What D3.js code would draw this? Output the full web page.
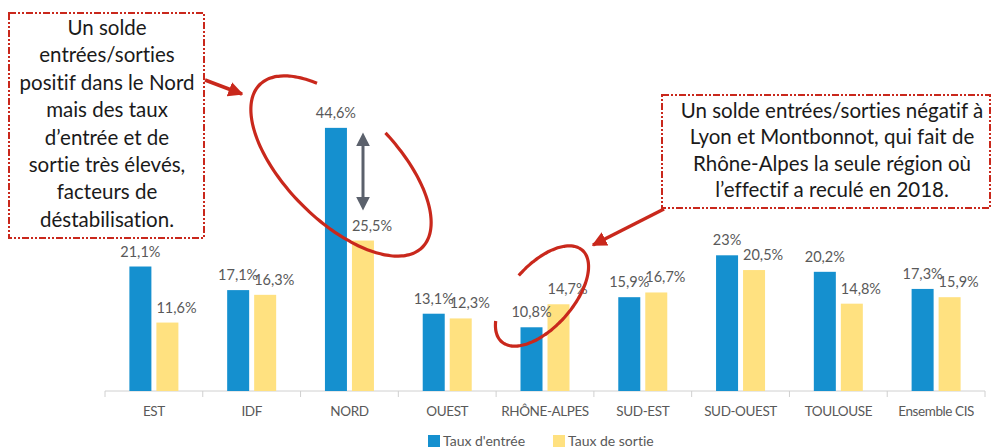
<!DOCTYPE html>
<html>
<head>
<meta charset="utf-8">
<script src="https://cdn.jsdelivr.net/npm/d3@7"></script>
<style>
body { margin: 0; background: #fff; }
svg { display: block; font-family: Lato, "Open Sans", sans-serif; font-variant-ligatures: none; font-feature-settings: "liga" 0, "clig" 0; }
</style>
</head>
<body>
<svg id="chart" width="992" height="448"></svg>
<script>
const regions = ['EST', 'IDF', 'NORD', 'OUEST', 'RHÔNE-ALPES', 'SUD-EST', 'SUD-OUEST', 'TOULOUSE', 'Ensemble CIS']
const series = ["Taux d'entrée", 'Taux de sortie']
const entree = [21.1, 17.1, 44.6, 13.1, 10.8, 15.9, 23, 20.2, 17.3]
const sortie = [11.6, 16.3, 25.5, 12.3, 14.7, 16.7, 20.5, 14.8, 15.9]
const colors = ['#1590cf', '#ffe180']

const noteNord = ['Un solde', 'entrées/sorties', 'positif dans le Nord', 'mais des taux',
    'd’entrée et de', 'sortie très élevés,', 'facteurs de', 'déstabilisation.']
const noteRA = ['Un solde entrées/sorties négatif à', 'Lyon et Montbonnot, qui fait de',
    'Rhône-Alpes la seule région où', 'l’effectif a reculé en 2018.']

const red = '#c9281c', grey = '#595959'

const svg = d3.select('#chart')

const x = d3.scaleBand().domain(regions).range([105, 985])
const bw = x.bandwidth()
const x1 = d3.scaleBand().domain(series).range([bw / 2 - 24.5, bw / 2 + 24.5]).paddingInner(0.185)
const y = d3.scaleLinear().domain([0, 50]).range([391, 96])

const fmt = v => (v % 1 === 0 ? v : v.toFixed(1).replace('.', ',')) + '%'

const rows = regions.map((r, i) => ({ region: r, values: [entree[i], sortie[i]] }))

// baseline + ticks between categories
svg.append('line')
    .attr('x1', x.range()[0]).attr('x2', x.range()[1])
    .attr('y1', y(0)).attr('y2', y(0))
    .attr('stroke', '#d0d0d0')
svg.append('g').selectAll('line')
    .data(regions.map(r => x(r)).concat([x.range()[1]]))
    .enter().append('line')
    .attr('x1', d => d).attr('x2', d => d)
    .attr('y1', y(0)).attr('y2', y(0) + 6)
    .attr('stroke', '#d0d0d0')

const xAxis = svg.append('g')
    .attr('transform', `translate(0,${y(0)})`)
    .call(d3.axisBottom(x).tickSize(0).tickPadding(15))
xAxis.select('.domain').remove()
xAxis.selectAll('text')
    .attr('fill', grey)
    .style('font-size', '13.5px')
    .style('letter-spacing', '-0.4px')
    .style('font-family', 'Lato, sans-serif')

// bars
const groups = svg.append('g').selectAll('g')
    .data(rows)
    .enter().append('g')
    .attr('transform', d => `translate(${x(d.region)},0)`)

groups.selectAll('rect')
    .data(d => d.values.map((v, k) => ({ s: series[k], v: v, k: k })))
    .enter().append('rect')
    .attr('x', d => x1(d.s))
    .attr('y', d => y(d.v))
    .attr('width', x1.bandwidth())
    .attr('height', d => y(0) - y(d.v))
    .attr('fill', d => colors[d.k])

groups.selectAll('text')
    .data(d => d.values.map((v, k) => ({ s: series[k], v: v, k: k })))
    .enter().append('text')
    .attr('x', d => d.k === 0 ? x1(d.s) + x1.bandwidth() / 2 : x1(d.s))
    .attr('y', d => y(d.v) - 10)
    .attr('text-anchor', d => d.k === 0 ? 'middle' : 'start')
    .attr('fill', grey)
    .style('font-size', '14.5px')
    .text(d => fmt(d.v))

// legend
const legend = svg.append('g').selectAll('g')
    .data(series)
    .enter().append('g')
    .attr('transform', (d, i) => `translate(${428 + i * 125},435)`)
legend.append('rect').attr('width', 12).attr('height', 12).attr('fill', (d, i) => colors[i])
legend.append('text')
    .attr('x', 15).attr('y', 11)
    .attr('fill', grey)
    .style('font-size', '14px')
    .text(d => d)

// annotation helpers
const defs = svg.append('defs')
defs.append('marker').attr('id', 'redHead')
    .attr('viewBox', '0 0 10 10').attr('refX', 9).attr('refY', 5)
    .attr('markerUnits', 'userSpaceOnUse')
    .attr('markerWidth', 15).attr('markerHeight', 15)
    .attr('orient', 'auto')
    .append('path').attr('d', 'M0,0L10,5L0,10Z').attr('fill', red)
defs.append('marker').attr('id', 'greyHead')
    .attr('viewBox', '0 0 10 10').attr('refX', 1).attr('refY', 5)
    .attr('markerUnits', 'userSpaceOnUse')
    .attr('markerWidth', 14).attr('markerHeight', 14)
    .attr('orient', 'auto-start-reverse')
    .append('path').attr('d', 'M0,0L10,5L0,10Z').attr('fill', '#5b616c')

function ellipse(cx, cy, a, b, rot, t0, t1) {
    const r = rot * Math.PI / 180
    return d3.range(t0, t1 + 0.1, 3).map(t => {
        t = t * Math.PI / 180
        const ex = a * Math.cos(t), ey = b * Math.sin(t)
        return [cx + ex * Math.cos(r) - ey * Math.sin(r), cy + ex * Math.sin(r) + ey * Math.cos(r)]
    })
}
const curve = d3.line().curve(d3.curveCatmullRom)

svg.append('path')
    .attr('d', curve(ellipse(341, 166, 115, 55, 45, -86, 229)))
    .attr('fill', 'none').attr('stroke', red).attr('stroke-width', 3.2)
svg.append('path')
    .attr('d', curve(ellipse(542, 296, 61, 31, -48.6, -90, 218)))
    .attr('fill', 'none').attr('stroke', red).attr('stroke-width', 3.2)

// grey double arrow on NORD
svg.append('line')
    .attr('x1', 363).attr('x2', 363).attr('y1', 145).attr('y2', 198)
    .attr('stroke', '#5b616c').attr('stroke-width', 3)
    .attr('marker-start', 'url(#greyHead)').attr('marker-end', 'url(#greyHead)')

// boxes
function note(lines, bx, by, w, h, cx, y0, lh) {
    svg.append('rect')
        .attr('x', bx).attr('y', by).attr('width', w).attr('height', h)
        .attr('fill', '#fff').attr('stroke', red).attr('stroke-width', 2)
        .attr('stroke-dasharray', '7,2,2,2,2,2')
    svg.append('g').selectAll('text')
        .data(lines)
        .enter().append('text')
        .attr('x', cx).attr('y', (d, i) => y0 + i * lh)
        .attr('text-anchor', 'middle')
        .attr('fill', '#1a1a1a')
        .style('font-size', '20.5px')
        .text(d => d)
}
note(noteNord, 9, 13, 195, 225, 107, 35, 27.4)
note(noteRA, 662, 95, 328, 113, 832, 118, 26.3)

svg.append('line')
    .attr('x1', 205).attr('y1', 80).attr('x2', 242).attr('y2', 94)
    .attr('stroke', red).attr('stroke-width', 3.5).attr('marker-end', 'url(#redHead)')
svg.append('line')
    .attr('x1', 664).attr('y1', 209).attr('x2', 593).attr('y2', 245)
    .attr('stroke', red).attr('stroke-width', 3.5).attr('marker-end', 'url(#redHead)')
</script>
</body>
</html>
